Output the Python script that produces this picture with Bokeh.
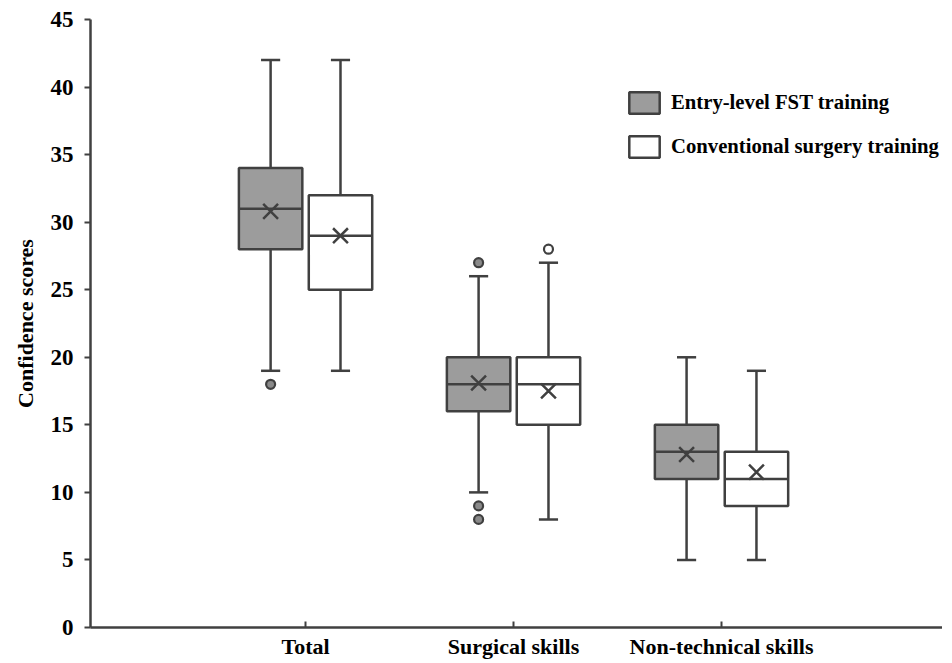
from bokeh.plotting import figure
from bokeh.models import Range1d, FixedTicker, Legend, LegendItem, ColumnDataSource
from bokeh.embed import file_html
from bokeh.resources import INLINE

# ---- data ----
categories = ["Total", "Surgical skills", "Non-technical skills"]
series = ["Entry-level FST training", "Conventional surgery training"]

fst_lower = [19, 10, 5]
fst_q1 = [28, 16, 11]
fst_median = [31, 18, 13]
fst_q3 = [34, 20, 15]
fst_upper = [42, 26, 20]
fst_mean = [30.8, 18.1, 12.8]
fst_outlier_cat = [0, 1, 1, 1]
fst_outlier_val = [18, 27, 9, 8]

conv_lower = [19, 8, 5]
conv_q1 = [25, 15, 9]
conv_median = [29, 18, 11]
conv_q3 = [32, 20, 13]
conv_upper = [42, 27, 19]
conv_mean = [29.0, 17.5, 11.5]
conv_outlier_cat = [1]
conv_outlier_val = [28]

y_ticks = [0, 5, 10, 15, 20, 25, 30, 35, 40, 45]

# ---- styling ----
FONT = "Liberation Serif"
EDGE = "#404040"
GRAY = "#9c9c9c"
OFFSET = 0.168
BOX_W = 0.305
CAP_W = 0.092

p = figure(width=942, height=663, output_backend="svg", toolbar_location=None,
           x_range=Range1d(-0.034, 4.0625), y_range=Range1d(0, 45),
           min_border_left=90, min_border_right=0, min_border_top=19, min_border_bottom=36)
p.outline_line_color = None
p.grid.visible = False
p.background_fill_color = "white"
p.border_fill_color = "white"

def draw(offset, lower, q1, med, q3, upper, mean, ocat, oval, fill, ofill):
    xs = [i + 1 + offset for i in range(len(categories))]
    src = ColumnDataSource(dict(
        x=xs,
        cl=[x - CAP_W / 2 for x in xs], cr=[x + CAP_W / 2 for x in xs],
        bl=[x - BOX_W / 2 for x in xs], br=[x + BOX_W / 2 for x in xs],
        lower=lower, q1=q1, med=med, q3=q3, upper=upper, mean=mean))
    p.segment(x0="x", y0="lower", x1="x", y1="q1", source=src, line_color=EDGE, line_width=2.5)
    p.segment(x0="x", y0="q3", x1="x", y1="upper", source=src, line_color=EDGE, line_width=2.5)
    p.segment(x0="cl", y0="lower", x1="cr", y1="lower", source=src, line_color=EDGE, line_width=2.5)
    p.segment(x0="cl", y0="upper", x1="cr", y1="upper", source=src, line_color=EDGE, line_width=2.5)
    box = p.vbar(x="x", bottom="q1", top="q3", width=BOX_W, source=src,
                 fill_color=fill, line_color=EDGE, line_width=2.5)
    p.segment(x0="bl", y0="med", x1="br", y1="med", source=src, line_color=EDGE, line_width=2.5)
    p.scatter(x="x", y="mean", source=src, marker="x", size=21, line_color=EDGE, line_width=2.5)
    ox = [c + 1 + offset for c in ocat]
    p.scatter(x=ox, y=oval, marker="circle", size=9, fill_color=ofill,
              line_color=EDGE, line_width=2.2)
    return box

b1 = draw(-OFFSET, fst_lower, fst_q1, fst_median, fst_q3, fst_upper, fst_mean,
          fst_outlier_cat, fst_outlier_val, GRAY, "#8a8a8a")
b2 = draw(OFFSET, conv_lower, conv_q1, conv_median, conv_q3, conv_upper, conv_mean,
          conv_outlier_cat, conv_outlier_val, "white", "white")

# ---- axes ----
p.yaxis.ticker = FixedTicker(ticks=y_ticks)
p.yaxis.minor_tick_line_color = None
p.yaxis.major_tick_in = 0
p.yaxis.major_tick_out = 6
p.yaxis.major_label_standoff = 11
p.yaxis.axis_label = "Confidence scores"
p.yaxis.axis_label_standoff = 10

p.xaxis.ticker = FixedTicker(ticks=[1, 2, 3])
p.xaxis.major_label_overrides = {1: categories[0], 2: categories[1], 3: categories[2]}
p.xaxis.minor_tick_line_color = None
p.xaxis.major_tick_in = 6
p.xaxis.major_tick_out = 0
p.xaxis.major_label_standoff = 6

for ax in (p.xaxis, p.yaxis):
    ax.axis_line_color = EDGE
    ax.axis_line_width = 2.5
    ax.major_tick_line_color = EDGE
    ax.major_tick_line_width = 2
    ax.major_label_text_font = FONT
    ax.major_label_text_font_style = "bold"
    ax.major_label_text_color = "black"
    ax.axis_label_text_font = FONT
    ax.axis_label_text_font_style = "bold"
    ax.axis_label_text_color = "black"
p.yaxis.major_label_text_font_size = "23px"
p.xaxis.major_label_text_font_size = "22px"
p.yaxis.axis_label_text_font_size = "22px"

# ---- legend ----
legend = Legend(items=[LegendItem(label=series[0], renderers=[b1]),
                       LegendItem(label=series[1], renderers=[b2])],
                location=(535, 467), orientation="vertical",
                glyph_width=38, glyph_height=27, label_height=27,
                spacing=17, label_standoff=8, padding=0, margin=0,
                border_line_color=None, background_fill_alpha=0,
                label_text_font=FONT, label_text_font_style="bold",
                label_text_font_size="20.7px", label_text_color="black")
p.add_layout(legend)

open("out.html", "w").write(file_html(p, INLINE))
